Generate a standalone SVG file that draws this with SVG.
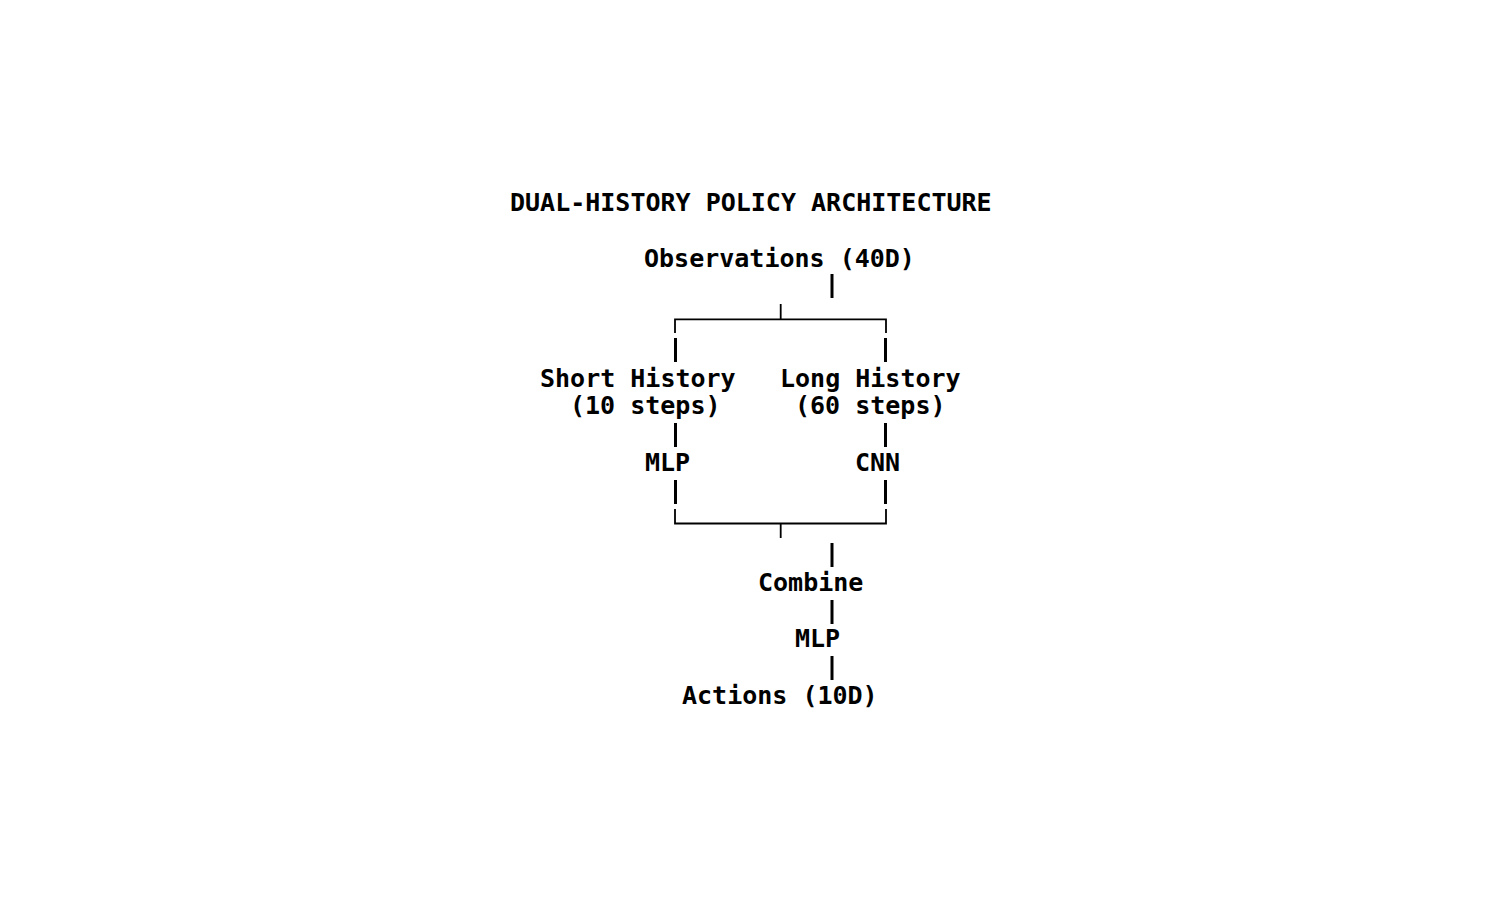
<svg xmlns="http://www.w3.org/2000/svg" width="1500" height="900" viewBox="0 0 1500 900">
  <style>
    .t { font-family: "DejaVu Sans Mono", "Liberation Mono", monospace; font-weight: bold; font-size: 25px; fill: #000; }
    .bar { stroke: #000; stroke-width: 3; fill: none; }
    .thin { stroke: #000; stroke-width: 1.8; fill: none; }
  </style>
  <rect x="0" y="0" width="1500" height="900" fill="#fff"/>
  <g id="title"><text class="t" x="510" y="211">DUAL-HISTORY POLICY ARCHITECTURE</text></g>
  <g id="observations"><text class="t" x="644" y="267">Observations (40D)</text></g>
  <g id="short-history">
    <text class="t" x="540" y="387">Short History</text>
    <text class="t" x="570" y="414">(10 steps)</text>
  </g>
  <g id="long-history">
    <text class="t" x="780" y="387">Long History</text>
    <text class="t" x="795" y="414">(60 steps)</text>
  </g>
  <g id="mlp-short"><text class="t" x="645" y="471">MLP</text></g>
  <g id="cnn-long"><text class="t" x="855" y="471">CNN</text></g>
  <g id="combine"><text class="t" x="758" y="591">Combine</text></g>
  <g id="mlp-head"><text class="t" x="795" y="647">MLP</text></g>
  <g id="actions"><text class="t" x="682" y="704">Actions (10D)</text></g>
  <g id="connectors">
    <line class="bar" x1="832" y1="274" x2="832" y2="298"/>
    <path class="thin" d="M780.7,304 V319.3 M675,333 V319.3 H886 V333"/>
    <line class="bar" x1="675.5" y1="338" x2="675.5" y2="362"/>
    <line class="bar" x1="885.5" y1="338" x2="885.5" y2="362"/>
    <line class="bar" x1="675.5" y1="423" x2="675.5" y2="447"/>
    <line class="bar" x1="885.5" y1="423" x2="885.5" y2="447"/>
    <line class="bar" x1="675.5" y1="480" x2="675.5" y2="504"/>
    <line class="bar" x1="885.5" y1="480" x2="885.5" y2="504"/>
    <path class="thin" d="M675,509 V523.5 H886 V509 M780.7,523.5 V538"/>
    <line class="bar" x1="832" y1="543" x2="832" y2="567"/>
    <line class="bar" x1="832" y1="600" x2="832" y2="624"/>
    <line class="bar" x1="832" y1="656" x2="832" y2="680"/>
  </g>
</svg>
